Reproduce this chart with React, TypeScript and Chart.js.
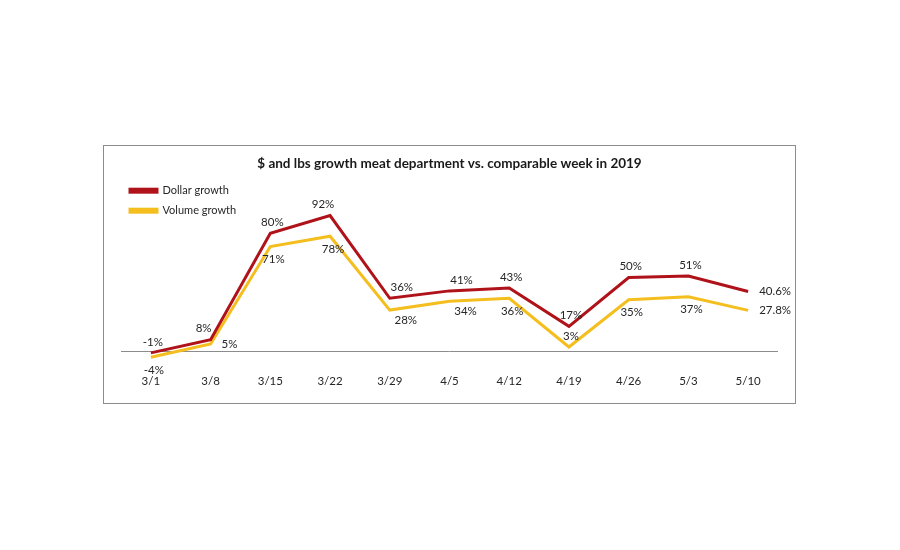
import React, { useEffect, useRef } from "react";
import { Chart, registerables } from "chart.js";

Chart.register(...registerables);

const weeks = ["3/1", "3/8", "3/15", "3/22", "3/29", "4/5", "4/12", "4/19", "4/26", "5/3", "5/10"];
const dollarGrowth = [-1, 8, 80, 92, 36, 41, 43, 17, 50, 51, 40.6];
const volumeGrowth = [-4, 5, 71, 78, 28, 34, 36, 3, 35, 37, 27.8];

// where each value label sits relative to its point
const dollarLabelPlacement = ["above", "aboveLeft", "above", "aboveLeft", "aboveRight", "aboveRight", "above", "above", "above", "above", "right"];
const volumeLabelPlacement = ["below", "right", "below", "below", "belowRight", "belowRight", "below", "above", "below", "below", "right"];

const DOLLAR_COLOR = "#B0121A";
const VOLUME_COLOR = "#F4BE1E";
const FONT = "Lato, 'Open Sans', sans-serif";

const fmtPct = (v: number) => (Number.isInteger(v) ? `${v}%` : `${v.toFixed(1)}%`);

const placementOffset: Record<string, { dx: number; dy: number; align: CanvasTextAlign }> = {
  above: { dx: 2, dy: -11, align: "center" },
  aboveLeft: { dx: -7, dy: -11, align: "center" },
  aboveRight: { dx: 12, dy: -11, align: "center" },
  below: { dx: 3, dy: 13, align: "center" },
  belowRight: { dx: 16, dy: 10, align: "center" },
  right: { dx: 11, dy: 0, align: "left" },
};

const valueLabels = {
  id: "valueLabels",
  afterDatasetsDraw(chart: Chart) {
    const { ctx } = chart;
    const placements = [dollarLabelPlacement, volumeLabelPlacement];
    ctx.save();
    ctx.font = `11.5px ${FONT}`;
    ctx.fillStyle = "#262626";
    ctx.textBaseline = "middle";
    chart.data.datasets.forEach((ds, di) => {
      const meta = chart.getDatasetMeta(di);
      meta.data.forEach((pt: any, i: number) => {
        const o = placementOffset[placements[di][i]];
        ctx.textAlign = o.align;
        ctx.fillText(fmtPct(ds.data[i] as number), pt.x + o.dx, pt.y + o.dy);
      });
    });
    ctx.restore();
  },
};

export default function App() {
  const canvasRef = useRef<HTMLCanvasElement>(null);

  useEffect(() => {
    document.body.style.margin = "0";
    const chart = new Chart(canvasRef.current!, {
      type: "line",
      data: {
        labels: weeks,
        datasets: [
          {
            label: "Dollar growth",
            data: dollarGrowth,
            borderColor: DOLLAR_COLOR,
            backgroundColor: DOLLAR_COLOR,
            borderWidth: 3,
            pointRadius: 0,
            tension: 0,
          },
          {
            label: "Volume growth",
            data: volumeGrowth,
            borderColor: VOLUME_COLOR,
            backgroundColor: VOLUME_COLOR,
            borderWidth: 3,
            pointRadius: 0,
            tension: 0,
          },
        ],
      },
      options: {
        responsive: false,
        animation: false,
        layout: { padding: { left: 17, right: 17, top: 0, bottom: 7 } },
        plugins: {
          title: {
            display: true,
            text: "$ and lbs growth meat department vs. comparable week in 2019",
            color: "#1a1a1a",
            font: { family: FONT, size: 13.5, weight: "bold" },
            padding: { top: 10, bottom: 2 },
          },
          legend: {
            position: "chartArea",
            align: "start",
            title: { display: true, text: "", font: { size: 1 }, padding: { top: 29, bottom: 0 } },
            labels: {
              boxWidth: 27,
              boxHeight: 3,
              padding: 9,
              color: "#262626",
              font: { family: FONT, size: 11 },
            },
          },
          tooltip: { enabled: false },
        },
        scales: {
          x: {
            offset: true,
            grid: { display: false, drawTicks: false },
            border: { display: false },
            ticks: { color: "#262626", font: { family: FONT, size: 11.5 }, padding: 8, maxRotation: 0 },
          },
          y: {
            min: -10,
            max: 120,
            border: { display: false },
            grid: {
              drawTicks: false,
              color: (c: any) => (c.tick && c.tick.value === 0 ? "#8c8c8c" : "rgba(0,0,0,0)"),
            },
            ticks: { display: false, stepSize: 10 },
          },
        },
      },
      plugins: [valueLabels],
    });
    return () => chart.destroy();
  }, []);

  return (
    <div
      style={{
        position: "absolute",
        left: 103,
        top: 145,
        width: 693,
        height: 259,
        boxSizing: "border-box",
        border: "1px solid #8c8c8c",
        background: "#fff",
      }}
    >
      <canvas ref={canvasRef} width={691} height={257} style={{ display: "block" }} />
    </div>
  );
}
